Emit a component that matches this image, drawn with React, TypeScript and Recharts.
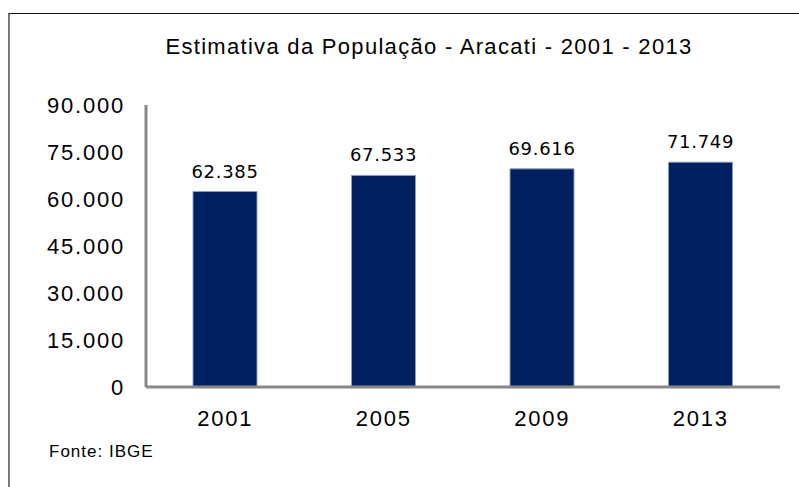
import { BarChart, Bar, XAxis, YAxis, LabelList } from 'recharts'

const years = ['2001', '2005', '2009', '2013']
const population = [62385, 67533, 69616, 71749]
const yTicks = [0, 15000, 30000, 45000, 60000, 75000, 90000]

const data = years.map((year, i) => ({ year, value: population[i] }))

// pt-BR style thousands separator: 62.385
const fmt = (v: number) => (v === 0 ? '0' : v.toString().replace(/\B(?=(\d{3})+(?!\d))/g, '.'))

const axisFont = '"Liberation Sans", Arial, sans-serif'

export default function App() {
  return (
    <div style={{ position: 'fixed', left: 0, top: 0, width: 799, height: 487, background: '#fff', overflow: 'hidden' }}>
      {/* open frame: only top and left edges are visible */}
      <div
        style={{
          position: 'absolute',
          left: 8,
          top: 13,
          width: 820,
          height: 500,
          borderTop: '1px solid #111',
          borderLeft: '2px solid #7a7a7a',
        }}
      />
      <div
        style={{
          position: 'absolute',
          left: 0,
          width: 858,
          top: 34,
          textAlign: 'center',
          fontFamily: axisFont,
          fontSize: 22,
          color: '#000',
          letterSpacing: 1.3,
          whiteSpace: 'nowrap',
        }}
      >
        Estimativa da População - Aracati - 2001 - 2013
      </div>
      <div
        style={{
          position: 'absolute',
          left: 49,
          top: 442,
          fontFamily: axisFont,
          fontSize: 17,
          letterSpacing: 1,
          color: '#000',
        }}
      >
        Fonte: IBGE
      </div>
      <div style={{ position: 'absolute', left: 0, top: 0 }}>
        <BarChart
          width={799}
          height={487}
          data={data}
          margin={{ top: 105, right: 19, bottom: 60, left: 0 }}
        >
          <XAxis
            dataKey="year"
            height={40}
            axisLine={{ stroke: '#888888', strokeWidth: 3 }}
            tickLine={false}
            tickSize={0}
            tickMargin={23}
            tick={{ fill: '#000', fontSize: 22, fontFamily: axisFont, letterSpacing: 1.8 }}
          />
          <YAxis
            width={146}
            domain={[0, 90000]}
            ticks={yTicks}
            interval={0}
            tickFormatter={fmt}
            axisLine={{ stroke: '#888888', strokeWidth: 3 }}
            tickLine={false}
            tickSize={0}
            tickMargin={21}
            tick={{ fill: '#000', fontSize: 22, fontFamily: axisFont, letterSpacing: 1.8 }}
          />
          <Bar dataKey="value" fill="#00205f" stroke="#8a9cc4" strokeWidth={1} barSize={64} isAnimationActive={false}>
            <LabelList
              dataKey="value"
              position="top"
              offset={14}
              formatter={(v: number) => fmt(v)}
              style={{ fill: '#000', fontSize: 18, fontFamily: '"DejaVu Sans", sans-serif', letterSpacing: 0.7 }}
            />
          </Bar>
        </BarChart>
      </div>
    </div>
  )
}
